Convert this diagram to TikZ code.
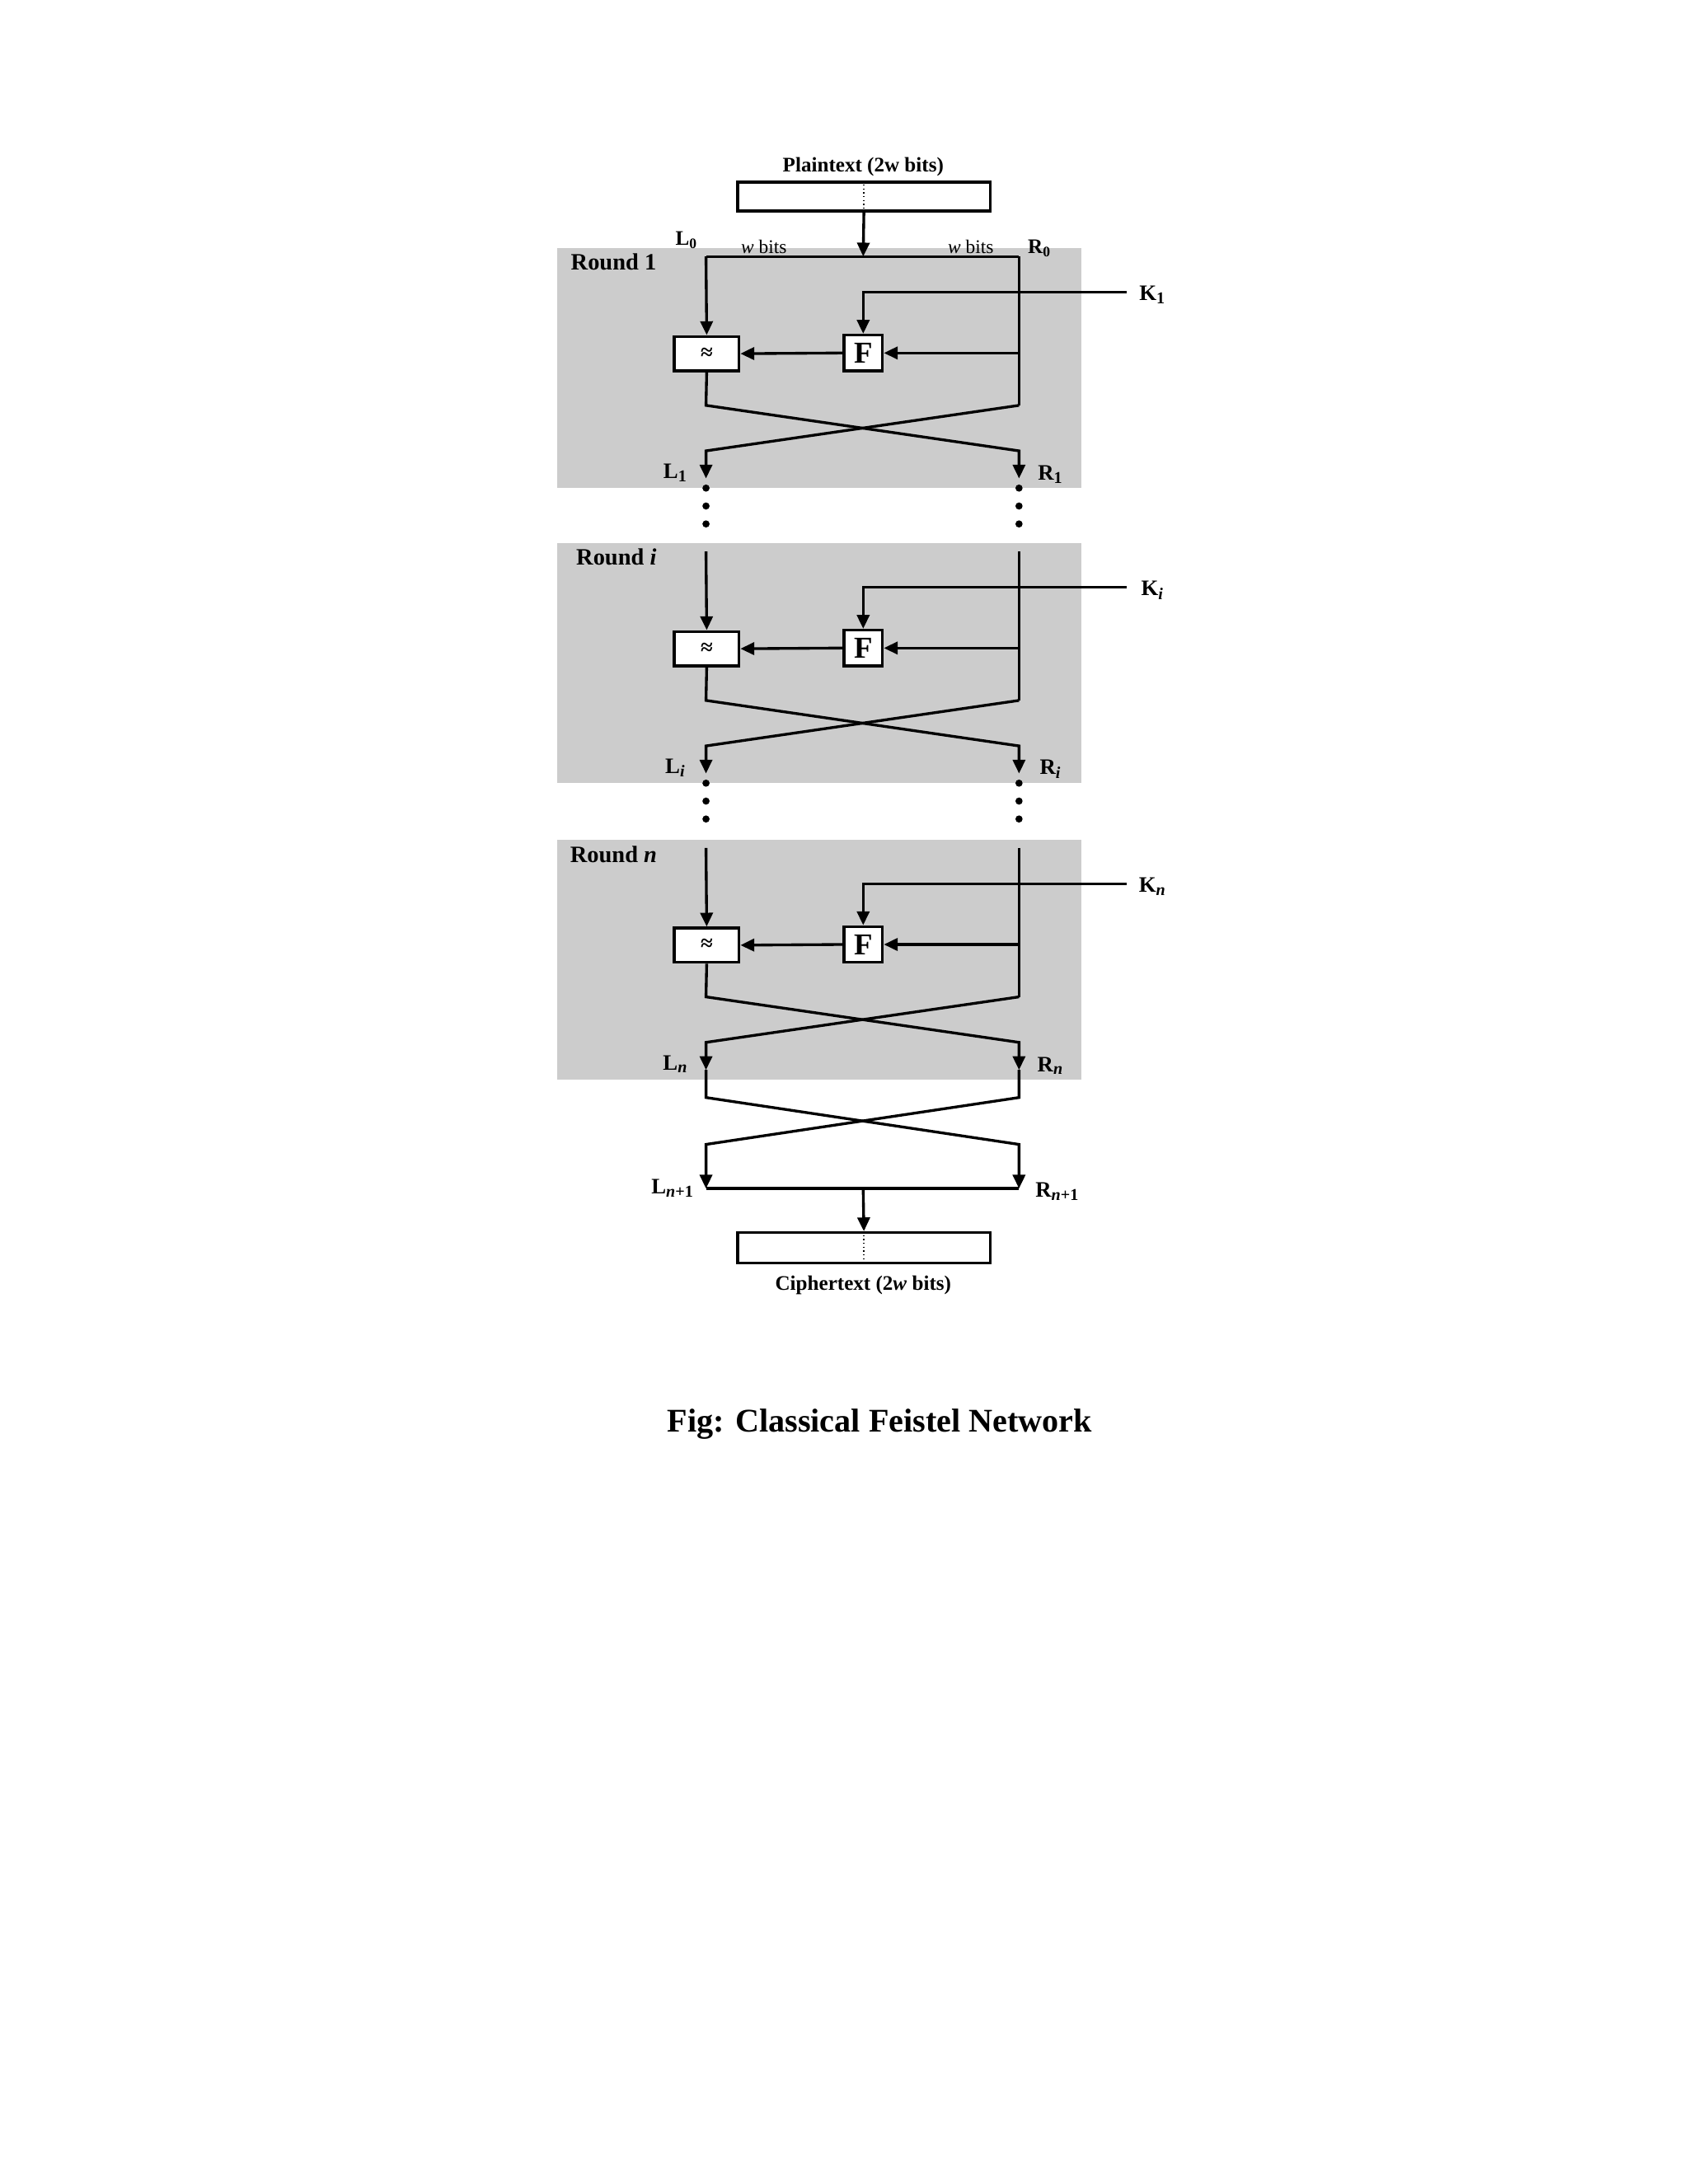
\documentclass[tikz,border=0pt]{standalone}
\usepackage{fontspec}
\setmainfont{Liberation Serif}
\usetikzlibrary{arrows.meta}
\begin{document}
\begin{tikzpicture}[x=0.5pt,y=-0.5pt, line width=1pt,
  >={Triangle[length=5pt,width=4.5pt]},
  lbl/.style={font=\bfseries\fontsize{7.5}{8}\selectfont, inner sep=0pt},
  blk/.style={draw, fill=white, line width=1pt, inner sep=0pt},
  dot/.style={fill, circle, inner sep=0pt, minimum size=2.6pt}]
\useasboundingbox (0,0) rectangle (1224,1584);
% gray round panels
\foreach \d in {0,214,429}{
  \fill[gray!40] (404,180+\d) rectangle (784,354+\d);
}
\node[lbl] (ptl) at (626,121) {Plaintext (2w bits)};
\node[draw, minimum width=91.5pt, minimum height=10.5pt, inner sep=0pt] (pt) at (626.5,142.5) {};
\draw[densely dotted, line width=0.4pt] (pt.north) -- (pt.south);
\coordinate (top) at (626,186);
\coordinate (L0) at (512,186);
\coordinate (R0) at (739,186);
\draw[->] (pt.south) -- (top);
\draw (L0) -- (R0);
\node[lbl] (l0) at (498,174) {L\textsubscript{0}};
\node[lbl, font=\fontsize{7}{8}\selectfont] (wb1) at (554,179) {\textit{w} bits};
\node[lbl, font=\fontsize{7}{8}\selectfont] (wb2) at (704,179) {\textit{w} bits};
\node[lbl] (r0) at (754,180) {R\textsubscript{0}};
\foreach \r/\d/\rl/\ks/\os/\lx/\ly in {
   a/0/1/{1}/{1}/445/190,
   b/214/{\textit{i}}/{\textit{i}}/{\textit{i}}/447/190,
   c/429/{\textit{n}}/{\textit{n}}/{\textit{n}}/445/191}{
  \node[lbl, font=\bfseries\fontsize{8.5}{9}\selectfont, anchor=center] (round\r) at (\lx,\ly+\d) {Round \rl};
  \node[blk, minimum width=23.5pt, minimum height=12.5pt, font=\bfseries\fontsize{8}{9}\selectfont] (x\r) at (512.5,256.5+\d) {≈};
  \node[blk, minimum width=14pt, minimum height=13pt, font=\bfseries\fontsize{11}{12}\selectfont] (f\r) at (626,256+\d) {F};
  \coordinate (k\r) at (817,212+\d);
  \coordinate (lt\r) at (512,186+\d);
  \coordinate (rt\r) at (739,186+\d);
  \coordinate (rm\r) at (739,256+\d);
  \coordinate (rb\r) at (739,294+\d);
  \coordinate (lo\r) at (512,347+\d);
  \coordinate (ro\r) at (739,347+\d);
  \node[lbl, font=\bfseries\fontsize{8}{9}\selectfont] (kl\r) at (836,214+\d) {K\textsubscript{\ks}};
  \draw[->] (k\r) -| (f\r.north);
  \draw[->] (lt\r) -- (x\r.north);
  \draw (rt\r) -- (rb\r);
  \draw[->] (rm\r) -- (f\r.east);
  \draw[->] (f\r.west) -- (x\r.east);
  \draw[->] (x\r.south) -- (512,294+\d) -- (739,327+\d) -- (ro\r);
  \draw[->] (rb\r) -- (512,327+\d) -- (lo\r);
  \node[lbl, font=\bfseries\fontsize{8}{9}\selectfont] (ll\r) at (490,343+\d) {L\textsubscript{\os}};
  \node[lbl, font=\bfseries\fontsize{8}{9}\selectfont] (rl\r) at (762,344+\d) {R\textsubscript{\os}};
}
\foreach \d in {0,214}{
  \foreach \yy in {354,367,380}{
    \node[dot] at (512,\yy+\d) {};
    \node[dot] at (739,\yy+\d) {};
  }
}
% final swap
\coordinate (fl) at (512,862);
\coordinate (fr) at (739,862);
\coordinate (fm) at (626,862);
\draw[->] (loc) -- (512,796) -- (739,830) -- (fr);
\draw[->] (roc) -- (739,796) -- (512,830) -- (fl);
\draw (fl) -- (fr);
\node[draw, minimum width=91.5pt, minimum height=11pt, inner sep=0pt] (ct) at (626.5,905) {};
\draw[densely dotted, line width=0.4pt] (ct.north) -- (ct.south);
\draw[->] (fm) -- (ct.north);
\node[lbl, font=\bfseries\fontsize{8}{9}\selectfont] (ln1) at (488,862) {L\textsubscript{\textit{n}+1}};
\node[lbl, font=\bfseries\fontsize{8}{9}\selectfont] (rn1) at (767,864) {R\textsubscript{\textit{n}+1}};
\node[lbl] (ctl) at (626,932) {Ciphertext (2\textit{w} bits)};
\node[font=\bfseries\fontsize{12}{14}\selectfont, inner sep=0pt] (cap) at (638,1033) {Fig: Classical Feistel Network};
\end{tikzpicture}
\end{document}
